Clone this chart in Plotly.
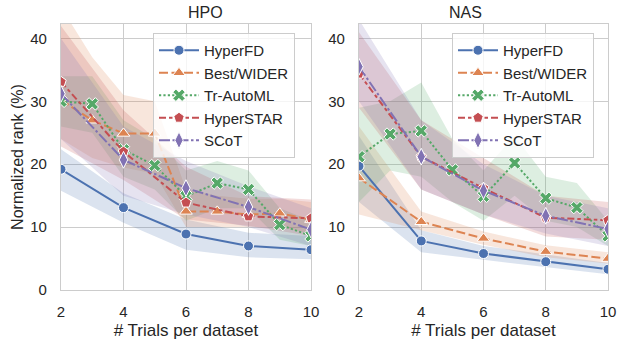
import plotly.graph_objects as go

# ---------------- data ----------------
methods = ["HyperFD", "Best/WIDER", "Tr-AutoML", "HyperSTAR", "SCoT"]
x_even = [2, 4, 6, 8, 10]
x_all = [2, 3, 4, 5, 6, 7, 8, 9, 10]

# HPO panel
hpo_hyperfd = [19.2, 13.1, 8.9, 7.0, 6.4]
hpo_hyperfd_hi = [22.4, 15.4, 11.2, 9.1, 8.6]
hpo_hyperfd_lo = [15.8, 10.7, 6.4, 5.2, 4.9]

hpo_best = [30.2, 27.0, 24.9, 24.9, 12.5, 12.5, 12.0, 12.2, 11.2]
hpo_best_hi = [45.0, 37.0, 31.0, 30.0, 16.0, 15.0, 14.5, 14.5, 14.0]
hpo_best_lo = [24.0, 21.0, 19.5, 18.5, 10.0, 10.0, 10.0, 10.0, 9.0]

hpo_tr = [30.0, 29.6, 22.3, 19.8, 14.9, 17.0, 16.0, 10.4, 8.6]
hpo_tr_hi = [34.0, 34.0, 27.0, 24.0, 19.0, 20.5, 19.0, 13.0, 11.0]
hpo_tr_lo = [26.0, 25.0, 18.0, 16.0, 11.0, 13.0, 13.0, 8.0, 7.0]

hpo_star = [33.1, 22.0, 13.9, 11.7, 11.4]
hpo_star_hi = [42.0, 28.6, 19.6, 14.9, 14.4]
hpo_star_lo = [22.8, 17.5, 11.2, 10.2, 8.6]

hpo_scot = [31.2, 20.7, 16.2, 13.2, 9.6]
hpo_scot_hi = [40.0, 26.0, 20.5, 16.5, 13.0]
hpo_scot_lo = [24.0, 15.0, 12.0, 10.0, 7.0]

# NAS panel
nas_hyperfd = [19.7, 7.8, 5.8, 4.5, 3.3]
nas_hyperfd_hi = [24.5, 9.5, 7.0, 5.6, 4.3]
nas_hyperfd_lo = [14.0, 6.0, 4.8, 3.6, 2.5]

nas_best = [17.8, 10.85, 8.2, 6.1, 5.0]
nas_best_hi = [26.0, 12.5, 9.3, 7.1, 6.0]
nas_best_lo = [12.0, 9.5, 7.2, 5.2, 4.2]

nas_tr = [21.2, 24.8, 25.3, 19.1, 14.9, 20.2, 14.6, 13.1, 8.6]
nas_tr_hi = [29.0, 30.0, 33.0, 24.0, 19.0, 24.5, 18.0, 17.0, 11.0]
nas_tr_lo = [14.0, 19.0, 18.0, 14.0, 11.0, 15.0, 11.0, 10.0, 7.0]

nas_star = [34.4, 21.2, 16.2, 11.5, 11.1]
nas_star_hi = [41.0, 27.0, 21.0, 15.0, 14.0]
nas_star_lo = [29.0, 16.0, 12.0, 8.5, 8.0]

nas_scot = [35.5, 21.2, 15.8, 11.8, 9.7]
nas_scot_hi = [43.0, 27.0, 20.0, 15.0, 13.0]
nas_scot_lo = [30.0, 16.0, 12.0, 9.0, 7.0]

panel_titles = ["HPO", "NAS"]
x_ticks = [2, 4, 6, 8, 10]
y_ticks = [0, 10, 20, 30, 40]

# ---------------- style ----------------
colors = ["#4C72B0", "#DD8452", "#55A868", "#C44E52", "#8172B3"]
fills = ["rgba(76,114,176,0.2)", "rgba(221,132,82,0.2)", "rgba(85,168,104,0.2)",
         "rgba(196,78,82,0.2)", "rgba(129,114,179,0.2)"]
dashes = ["solid", "9px,3.5px", "2.2px,2.2px", "7px,3px,3.5px,3px", "11px,2.5px,2.5px,2.5px"]
symbols = ["circle", "triangle-up", "x", "pentagon", "diamond-tall"]
msizes = [10, 11, 11, 11, 12]
FONT = "Liberation Sans, Arial, sans-serif"
TXT = "#262626"
GRID = "#cccccc"

panels = [
    [(x_even, hpo_hyperfd, hpo_hyperfd_hi, hpo_hyperfd_lo),
     (x_all, hpo_best, hpo_best_hi, hpo_best_lo),
     (x_all, hpo_tr, hpo_tr_hi, hpo_tr_lo),
     (x_even, hpo_star, hpo_star_hi, hpo_star_lo),
     (x_even, hpo_scot, hpo_scot_hi, hpo_scot_lo)],
    [(x_even, nas_hyperfd, nas_hyperfd_hi, nas_hyperfd_lo),
     (x_even, nas_best, nas_best_hi, nas_best_lo),
     (x_all, nas_tr, nas_tr_hi, nas_tr_lo),
     (x_even, nas_star, nas_star_hi, nas_star_lo),
     (x_even, nas_scot, nas_scot_hi, nas_scot_lo)],
]

fig = go.Figure()
for p, series in enumerate(panels):
    xa = "x" if p == 0 else "x2"
    ya = "y" if p == 0 else "y2"
    lg = "legend" if p == 0 else "legend2"
    for i, (xs, ys, hi, lo) in enumerate(series):
        fig.add_trace(go.Scatter(x=xs, y=hi, mode="lines", line=dict(width=0),
                                 showlegend=False, hoverinfo="skip", xaxis=xa, yaxis=ya))
        fig.add_trace(go.Scatter(x=xs, y=lo, mode="lines", line=dict(width=0),
                                 fill="tonexty", fillcolor=fills[i],
                                 showlegend=False, hoverinfo="skip", xaxis=xa, yaxis=ya))
    for i, (xs, ys, hi, lo) in enumerate(series):
        fig.add_trace(go.Scatter(
            x=xs, y=ys, mode="lines+markers", name=methods[i],
            line=dict(color=colors[i], width=2, dash=dashes[i]),
            marker=dict(symbol=symbols[i], size=msizes[i], color=colors[i],
                        line=dict(color="white", width=1)),
            xaxis=xa, yaxis=ya, legend=lg))

W, H = 618, 345
axis_common = dict(showgrid=True, gridcolor=GRID, gridwidth=1, showline=True,
                   linecolor=GRID, linewidth=1.2, mirror=True, zeroline=False,
                   ticklabeloverflow="allow", automargin=False,
                   tickfont=dict(family=FONT, size=15, color=TXT))
x_tick = dict(ticks="outside", ticklen=8, tickcolor="rgba(0,0,0,0)")
y_tick = dict(ticks="outside", ticklen=10, tickcolor="rgba(0,0,0,0)")
xd1 = [61 / W, 311 / W]
xd2 = [359 / W, 608 / W]
yd = [55 / H, 321 / H]

xtitle = dict(text="# Trials per dataset", font=dict(size=17, color=TXT), standoff=5)
leg = dict(y=1 - 33 / H, xanchor="left", yanchor="top",
           bgcolor="rgba(255,255,255,0.8)", bordercolor=GRID, borderwidth=1,
           font=dict(family=FONT, size=15, color=TXT), itemwidth=40,
           tracegroupgap=0, traceorder="normal")

fig.update_layout(
    width=W, height=H, margin=dict(l=0, r=0, t=0, b=0),
    paper_bgcolor="white", plot_bgcolor="white",
    font=dict(family=FONT, color=TXT),
    xaxis=dict(domain=xd1, range=[2, 10], tickvals=x_ticks, anchor="y",
               title=xtitle, **x_tick, **axis_common),
    yaxis=dict(domain=yd, range=[0, 42.3], tickvals=y_ticks, anchor="x",
               title=dict(text="Normalized rank (%)", font=dict(size=16, color=TXT), standoff=2),
               **y_tick, **axis_common),
    xaxis2=dict(domain=xd2, range=[2, 10], tickvals=x_ticks, anchor="y2",
                title=xtitle, **x_tick, **axis_common),
    yaxis2=dict(domain=yd, range=[0, 42.3], tickvals=y_ticks, anchor="x2",
                **y_tick, **axis_common),
    legend=dict(x=153 / W, **leg),
    legend2=dict(x=452 / W, **leg),
    annotations=[
        dict(text=panel_titles[0], x=(xd1[0] + xd1[1]) / 2, y=1 - 12 / H, xref="paper", yref="paper",
             showarrow=False, font=dict(family=FONT, size=16, color=TXT), yanchor="middle"),
        dict(text=panel_titles[1], x=(xd2[0] + xd2[1]) / 2, y=1 - 12 / H, xref="paper", yref="paper",
             showarrow=False, font=dict(family=FONT, size=16, color=TXT), yanchor="middle"),
    ],
)

fig.write_html("out.html", config={"displayModeBar": False},
               post_script="document.body.style.margin='0';document.body.style.overflow='hidden';")
